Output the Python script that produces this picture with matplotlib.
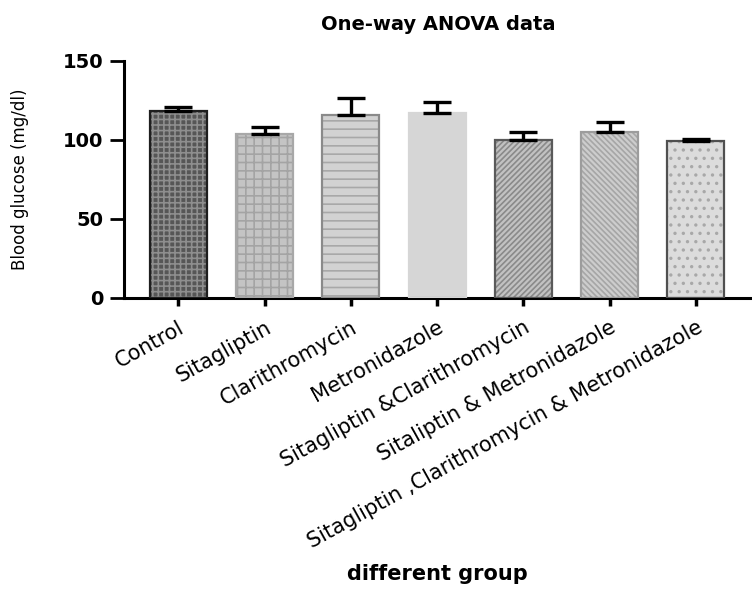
import matplotlib
matplotlib.use("Agg")
import matplotlib.pyplot as plt
import numpy as np

plt.rcParams['font.family'] = ['DejaVu Sans']
plt.rcParams['hatch.linewidth'] = 1.2

groups = ["Control", "Sitagliptin", "Clarithromycin", "Metronidazole",
          "Sitagliptin &Clarithromycin", "Sitaliptin & Metronidazole",
          "Sitagliptin ,Clarithromycin & Metronidazole"]
means = [118, 103.5, 115.5, 116.8, 99.8, 104.7, 99.4]
sem = [3, 4.5, 11, 7, 5.2, 6.2, 1.0]

faces = ["#565656", "#c4c4c4", "#d2d2d2", "#d6d6d6", "#c2c2c2", "#cdcdcd", "#dcdcdc"]
hatchcols = ["#8e8e8e", "#a4a4a4", "#a8a8a8", "#d6d6d6", "#8a8a8a", "#a6a6a6", "#a8a8a8"]
edges = ["#1e1e1e", "#a8a8a8", "#8a8a8a", "#d6d6d6", "#5a5a5a", "#9c9c9c", "#505050"]
hatches = ["+++", "++", "--", "", "//////", "\\\\\\\\\\\\", ".."]

fig = plt.figure(figsize=(7.52, 5.89), dpi=100)
ax = fig.add_axes([0.165, 0.4946, 0.835, 0.4023])

x = np.arange(len(groups))
for i in range(len(groups)):
    ax.bar(x[i], means[i], width=0.66, facecolor=faces[i], edgecolor=hatchcols[i],
           hatch=hatches[i], linewidth=0, zorder=2)
    ax.bar(x[i], means[i], width=0.66, facecolor="none", edgecolor=edges[i],
           linewidth=1.6, zorder=3)
ax.errorbar(x, means, yerr=[np.zeros(len(sem)), sem], fmt='none', ecolor='black',
            elinewidth=2.4, capsize=10, capthick=2.4, zorder=4)

ax.set_xlim(-0.63, 6.65)
ax.set_ylim(0, 150)
ax.set_yticks([0, 50, 100, 150])
ax.set_xticks(x)
ax.set_xticklabels(groups, rotation=29, ha='right', va='top', rotation_mode='anchor',
                   fontsize=15)
ax.tick_params(axis='y', labelsize=14, width=2, length=10, pad=5)
for lbl in ax.get_yticklabels():
    lbl.set_fontweight('bold')
ax.tick_params(axis='x', width=2.5, length=6, pad=8)
for s in ['top', 'right']:
    ax.spines[s].set_visible(False)
ax.spines['left'].set_linewidth(2.2)
ax.spines['bottom'].set_linewidth(2.2)

ax.set_ylabel("Blood glucose (mg/dl)", fontsize=12, labelpad=24)
ax.set_title("One-way ANOVA data", fontsize=14, fontweight='bold', pad=22)
fig.text(0.582, 0.008, "different group", ha='center', va='bottom', fontsize=15,
         fontweight='bold')

fig.savefig("out.png", dpi=100)
